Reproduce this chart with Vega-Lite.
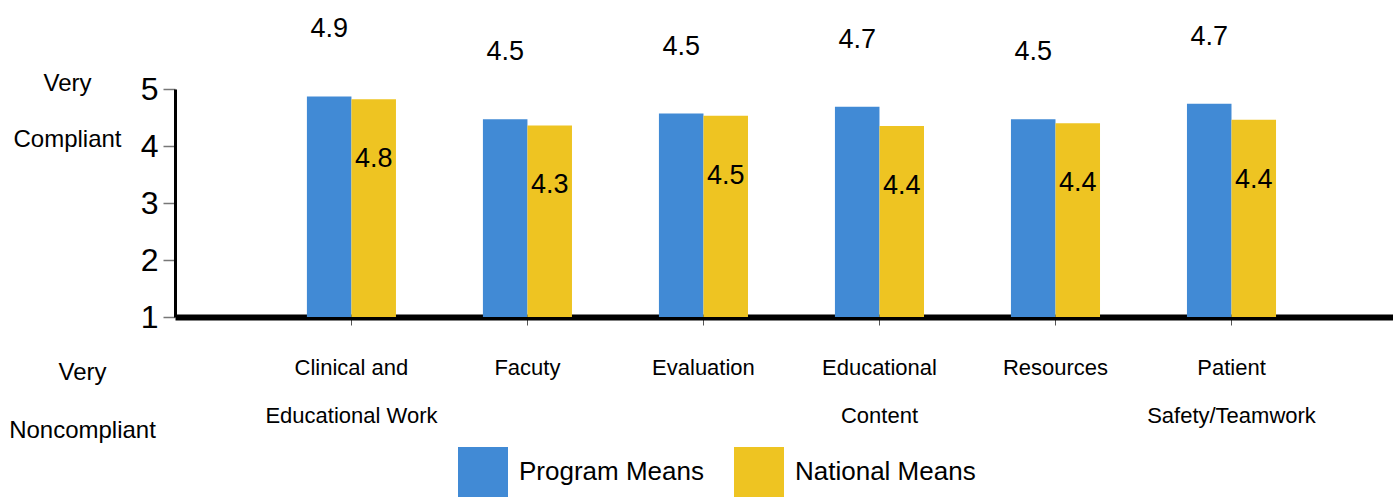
{
  "$schema": "https://vega.github.io/schema/vega-lite/v6.json",
  "autosize": {"type": "none"},
  "padding": {"left": 175, "top": 89, "right": 0, "bottom": 184},
  "width": 1218,
  "height": 228,
  "background": "white",
  "config": {"font": "Liberation Sans", "view": {"stroke": null}},
  "data": {"values": [
    {"category": "Clinical and\nEducational Work", "series": "Program Means", "value": 4.87, "label": "4.9"},
    {"category": "Clinical and\nEducational Work", "series": "National Means", "value": 4.82, "label": "4.8"},
    {"category": "Facuty", "series": "Program Means", "value": 4.47, "label": "4.5"},
    {"category": "Facuty", "series": "National Means", "value": 4.36, "label": "4.3"},
    {"category": "Evaluation", "series": "Program Means", "value": 4.57, "label": "4.5"},
    {"category": "Evaluation", "series": "National Means", "value": 4.53, "label": "4.5"},
    {"category": "Educational\nContent", "series": "Program Means", "value": 4.69, "label": "4.7"},
    {"category": "Educational\nContent", "series": "National Means", "value": 4.35, "label": "4.4"},
    {"category": "Resources", "series": "Program Means", "value": 4.47, "label": "4.5"},
    {"category": "Resources", "series": "National Means", "value": 4.4, "label": "4.4"},
    {"category": "Patient\nSafety/Teamwork", "series": "Program Means", "value": 4.74, "label": "4.7"},
    {"category": "Patient\nSafety/Teamwork", "series": "National Means", "value": 4.46, "label": "4.4"}
  ]},
  "encoding": {
    "x": {
      "field": "category", "type": "nominal", "sort": null,
      "scale": {"paddingInner": 0.494, "paddingOuter": 0.707, "align": 0.53},
      "axis": {
        "title": ["Very", "Noncompliant"], "titleX": -93, "titleY": 62, "titleAlign": "center",
        "titleBaseline": "alphabetic", "titleLineHeight": 58, "titleFontSize": 24, "titleFontWeight": "normal", "titleColor": "black",
        "labelExpr": "split(datum.label, '\\n')", "labelAngle": 0, "labelFontSize": 22, "labelLineHeight": 48,
        "labelPadding": 49, "labelBaseline": "alphabetic", "labelColor": "black", "labelLimit": 0,
        "tickSize": 8, "tickColor": "#555", "tickWidth": 1,
        "domainColor": "black", "domainWidth": 6
      }
    },
    "xOffset": {"field": "series", "type": "nominal", "scale": {"domain": ["Program Means", "National Means"]}},
    "y": {
      "field": "value", "type": "quantitative",
      "scale": {"domain": [1, 5], "zero": false, "nice": false},
      "axis": {
        "values": [1, 2, 3, 4, 5], "grid": false,
        "title": ["Very", "Compliant"], "titleAngle": 0, "titleAlign": "center", "titleBaseline": "alphabetic",
        "titleX": -108, "titleY": 1, "titleLineHeight": 56, "titleFontSize": 24, "titleFontWeight": "normal", "titleColor": "black",
        "labelFontSize": 32, "labelColor": "black", "labelPadding": 5,
        "tickSize": 12, "tickColor": "#777", "tickWidth": 1.5,
        "domainColor": "black", "domainWidth": 3
      }
    }
  },
  "layer": [
    {
      "mark": {"type": "bar"},
      "encoding": {
        "y2": {"datum": 1},
        "color": {
          "field": "series", "type": "nominal",
          "scale": {"domain": ["Program Means", "National Means"], "range": ["#418AD5", "#EEC422"]},
          "legend": {
            "title": null, "orient": "none", "legendX": 283, "legendY": 358, "direction": "horizontal",
            "symbolType": "square", "symbolSize": 2500, "symbolStrokeWidth": 0, "symbolOpacity": 1,
            "labelFontSize": 26, "labelOffset": 11, "columnPadding": 30, "labelColor": "black", "labelLimit": 0
          }
        }
      }
    },
    {
      "transform": [{"filter": "datum.series === 'Program Means'"}],
      "mark": {"type": "text", "dy": -67, "fontSize": 27, "baseline": "middle", "color": "black"},
      "encoding": {"text": {"field": "label"}}
    },
    {
      "transform": [{"filter": "datum.series === 'National Means'"}],
      "mark": {"type": "text", "dy": 60, "fontSize": 27, "baseline": "middle", "color": "black"},
      "encoding": {"text": {"field": "label"}}
    }
  ]
}
